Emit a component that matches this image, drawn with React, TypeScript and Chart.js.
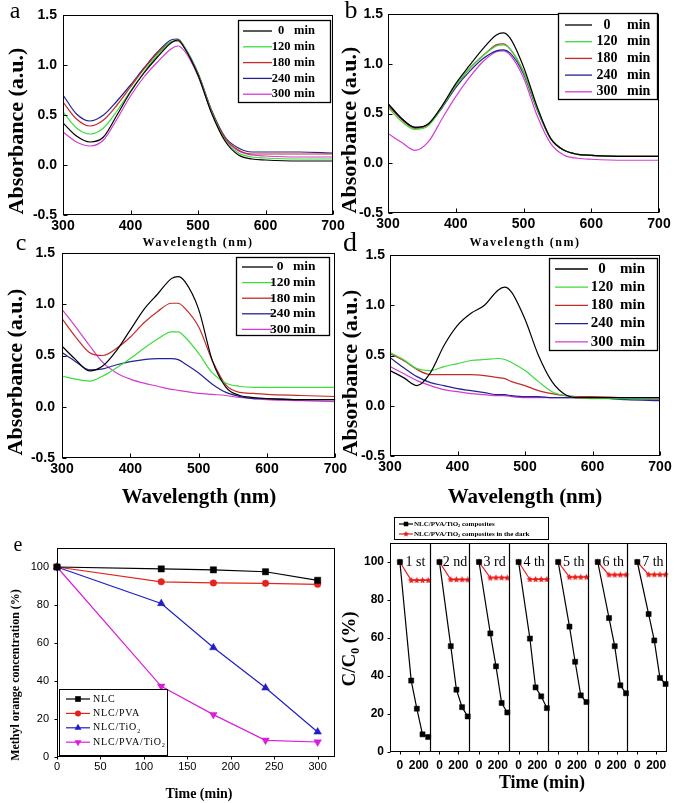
import React, { useEffect, useRef } from 'react';
import { Chart, registerables } from 'chart.js';

Chart.register(...registerables);

const SERIF = '"Liberation Serif", "Times New Roman", serif';
const SANS = '"Liberation Sans", Arial, sans-serif';

// ---------------- spectra (panels a-d) ----------------
const wavelengths = [300, 320, 340, 360, 380, 400, 420, 440, 460, 470, 480, 500, 520, 540, 560, 580, 600, 650, 700];
const irradiationMinutes = [0, 120, 180, 240, 300];
const spectrumColors = ['#000000', '#3cdc3c', '#c42a2a', '#24248e', '#d23cd2'];
const wavelengthTicks = [300, 400, 500, 600, 700];
const absorbanceTicks = [-0.5, 0, 0.5, 1, 1.5];

const absA0 = [0.42, 0.29, 0.23, 0.28, 0.50, 0.73, 0.92, 1.08, 1.22, 1.25, 1.17, 0.90, 0.52, 0.24, 0.10, 0.06, 0.05, 0.04, 0.04];
const absA120 = [0.53, 0.37, 0.31, 0.37, 0.54, 0.74, 0.93, 1.10, 1.23, 1.25, 1.18, 0.91, 0.53, 0.25, 0.12, 0.08, 0.07, 0.06, 0.06];
const absA180 = [0.63, 0.46, 0.39, 0.45, 0.60, 0.78, 0.96, 1.12, 1.23, 1.24, 1.17, 0.91, 0.54, 0.27, 0.15, 0.11, 0.11, 0.11, 0.11];
const absA240 = [0.70, 0.51, 0.44, 0.50, 0.64, 0.80, 0.97, 1.13, 1.25, 1.26, 1.18, 0.92, 0.55, 0.28, 0.17, 0.13, 0.13, 0.13, 0.12];
const absA300 = [0.33, 0.23, 0.19, 0.25, 0.46, 0.69, 0.88, 1.03, 1.16, 1.19, 1.14, 0.89, 0.53, 0.26, 0.14, 0.10, 0.09, 0.08, 0.08];

const absB0 = [0.60, 0.45, 0.36, 0.40, 0.58, 0.80, 0.98, 1.15, 1.29, 1.31, 1.26, 0.97, 0.57, 0.25, 0.13, 0.09, 0.08, 0.07, 0.07];
const absB120 = [0.56, 0.42, 0.34, 0.38, 0.57, 0.78, 0.95, 1.08, 1.18, 1.19, 1.15, 0.92, 0.55, 0.25, 0.13, 0.09, 0.08, 0.07, 0.07];
const absB180 = [0.58, 0.44, 0.35, 0.39, 0.57, 0.78, 0.95, 1.08, 1.19, 1.20, 1.15, 0.92, 0.55, 0.25, 0.13, 0.09, 0.08, 0.07, 0.07];
const absB240 = [0.60, 0.45, 0.36, 0.39, 0.56, 0.76, 0.92, 1.05, 1.13, 1.14, 1.11, 0.90, 0.54, 0.25, 0.13, 0.09, 0.08, 0.07, 0.07];
const absB300 = [0.30, 0.21, 0.13, 0.22, 0.45, 0.67, 0.86, 1.02, 1.12, 1.13, 1.09, 0.86, 0.48, 0.20, 0.08, 0.05, 0.04, 0.03, 0.03];

const absC0 = [0.59, 0.46, 0.35, 0.40, 0.55, 0.75, 0.95, 1.10, 1.25, 1.27, 1.22, 0.95, 0.45, 0.19, 0.11, 0.09, 0.08, 0.07, 0.07];
const absC120 = [0.30, 0.27, 0.25, 0.30, 0.38, 0.47, 0.57, 0.66, 0.73, 0.73, 0.68, 0.52, 0.33, 0.23, 0.20, 0.19, 0.19, 0.19, 0.19];
const absC180 = [0.86, 0.68, 0.53, 0.50, 0.57, 0.68, 0.82, 0.93, 1.01, 1.01, 0.96, 0.78, 0.45, 0.21, 0.14, 0.13, 0.12, 0.11, 0.10];
const absC240 = [0.53, 0.44, 0.36, 0.37, 0.41, 0.44, 0.46, 0.47, 0.47, 0.46, 0.42, 0.33, 0.22, 0.14, 0.10, 0.08, 0.08, 0.07, 0.07];
const absC300 = [0.95, 0.78, 0.60, 0.43, 0.33, 0.27, 0.23, 0.20, 0.17, 0.16, 0.15, 0.13, 0.12, 0.11, 0.09, 0.08, 0.07, 0.06, 0.05];

const absD0 = [0.35, 0.28, 0.20, 0.33, 0.60, 0.80, 0.92, 1.00, 1.15, 1.18, 1.13, 0.86, 0.50, 0.24, 0.11, 0.08, 0.08, 0.08, 0.08];
const absD120 = [0.53, 0.46, 0.37, 0.35, 0.39, 0.42, 0.45, 0.46, 0.47, 0.46, 0.43, 0.35, 0.24, 0.14, 0.10, 0.08, 0.07, 0.07, 0.07];
const absD180 = [0.52, 0.45, 0.36, 0.31, 0.31, 0.31, 0.31, 0.30, 0.28, 0.27, 0.24, 0.20, 0.15, 0.12, 0.10, 0.09, 0.09, 0.08, 0.08];
const absD240 = [0.48, 0.38, 0.29, 0.23, 0.20, 0.17, 0.15, 0.13, 0.11, 0.11, 0.10, 0.09, 0.09, 0.08, 0.08, 0.08, 0.08, 0.06, 0.05];
const absD300 = [0.39, 0.32, 0.25, 0.20, 0.16, 0.14, 0.12, 0.11, 0.10, 0.10, 0.09, 0.08, 0.08, 0.08, 0.08, 0.08, 0.08, 0.07, 0.06];

const absorbanceTitle = 'Absorbance (a.u.)';
const wavelengthTitle = 'Wavelength (nm)';

// ---------------- panel e ----------------
const degradationMinutes = [0, 120, 180, 240, 300];
const concNLC = [100, 99, 98.5, 97.5, 93];
const concNLCPVA = [100, 92.2, 91.6, 91.4, 90.9];
const concNLCTiO2 = [100, 80.8, 57.6, 36.4, 13.2];
const concNLCPVATiO2 = [100, 37.2, 22.3, 8.8, 7.9];
const eNames = ['NLC', 'NLC/PVA', 'NLC/TiO2', 'NLC/PVA/TiO2'];
const eColors = ['#000000', '#e3241c', '#1f1fc4', '#d91ed9'];
const eMarkers = ['rect', 'circle', 'triangle', 'triangleDown'];
const eTimeTicks = [0, 50, 100, 150, 200, 250, 300];
const eConcTicks = [0, 20, 40, 60, 80, 100];
const eYTitle = 'Methyl orange concentration (%)';
const timeTitle = 'Time (min)';

// ---------------- panel f ----------------
const cycleMinutes = [0, 120, 180, 240, 300];
const cycleTickMinutes = [0, 200];
const cycleSpan = 420;
const cycleOffset = 105;
const cycleLabels = ['1 st', '2 nd', '3 rd', '4 th', '5 th', '6 th', '7 th'];
const lightCycles = [
  [100, 37.6, 22.8, 9.3, 7.9],
  [100, 55.7, 32.8, 23.6, 18.7],
  [100, 62.4, 45.1, 25.8, 20.8],
  [100, 59.7, 34.0, 29.3, 23.1],
  [100, 66.0, 47.5, 29.8, 26.3],
  [100, 70.5, 55.7, 35.1, 30.9],
  [100, 72.6, 58.7, 39.0, 35.8],
];
const darkCycles = [
  [100, 90.3, 90.3, 90.3, 90.3],
  [100, 90.7, 90.7, 90.7, 90.6],
  [100, 91.6, 91.7, 91.7, 91.6],
  [100, 90.8, 90.8, 90.8, 90.8],
  [100, 92.0, 92.0, 92.0, 92.0],
  [100, 93.2, 93.2, 93.2, 93.2],
  [100, 93.3, 93.3, 93.3, 93.3],
];
const fNames = ['NLC/PVA/TiO2 composites', 'NLC/PVA/TiO2 composites in the dark'];
const fColors = ['#000000', '#e8201c'];
const fConcTicks = [0, 20, 40, 60, 80, 100];

// ---------------- helpers ----------------
type Box = { left: number; top: number; width: number; height: number };
type Area = { L: number; T: number; R: number; B: number };
type Part = { t: string; sub?: boolean };

function layoutFor(box: Box, area: Area) {
  return {
    yWidth: area.L - box.left,
    xHeight: box.top + box.height - area.B,
    padTop: area.T - box.top,
    padRight: box.left + box.width - area.R,
  };
}

function drawText(
  ctx: CanvasRenderingContext2D,
  s: string,
  x: number,
  y: number,
  font: string,
  o: { align?: CanvasTextAlign; rot?: number; ls?: string; color?: string } = {}
) {
  ctx.save();
  ctx.font = font;
  ctx.fillStyle = o.color || '#000';
  ctx.textAlign = o.align || 'center';
  ctx.textBaseline = 'middle';
  (ctx as any).letterSpacing = o.ls || '0px';
  ctx.translate(x, y);
  if (o.rot) ctx.rotate(o.rot);
  ctx.fillText(s, 0, 0);
  ctx.restore();
}

function chemParts(label: string): Part[] {
  const segs = label.split('TiO2');
  const parts: Part[] = [];
  segs.forEach((s, i) => {
    const last = i === segs.length - 1;
    parts.push({ t: s + (last ? '' : 'TiO') });
    if (!last) parts.push({ t: '2', sub: true });
  });
  return parts.filter((p) => p.t.length > 0);
}

function drawRich(
  ctx: CanvasRenderingContext2D,
  parts: Part[],
  x: number,
  y: number,
  size: number,
  weight: string,
  o: { align?: 'left' | 'center'; rot?: number; ls?: string } = {}
) {
  ctx.save();
  ctx.translate(x, y);
  if (o.rot) ctx.rotate(o.rot);
  (ctx as any).letterSpacing = o.ls || '0px';
  const fN = `${weight} ${size}px ${SERIF}`;
  const fS = `${weight} ${size * 0.62}px ${SERIF}`;
  const widths = parts.map((p) => {
    ctx.font = p.sub ? fS : fN;
    return ctx.measureText(p.t).width;
  });
  const total = widths.reduce((a, b) => a + b, 0);
  let cx = o.align === 'center' ? -total / 2 : 0;
  ctx.textAlign = 'left';
  ctx.textBaseline = 'middle';
  ctx.fillStyle = '#000';
  parts.forEach((p, i) => {
    ctx.font = p.sub ? fS : fN;
    ctx.fillText(p.t, cx, p.sub ? size * 0.32 : 0);
    cx += widths[i];
  });
  ctx.restore();
}

function starPath(g: CanvasRenderingContext2D, cx: number, cy: number, r: number, ri: number) {
  g.beginPath();
  for (let i = 0; i < 10; i++) {
    const a = -Math.PI / 2 + (i * Math.PI) / 5;
    const rr = i % 2 === 0 ? r : ri;
    const px = cx + rr * Math.cos(a);
    const py = cy + rr * Math.sin(a);
    if (i === 0) g.moveTo(px, py);
    else g.lineTo(px, py);
  }
  g.closePath();
}

function starImage(color: string, r: number) {
  const c = document.createElement('canvas');
  const s = Math.ceil(r * 2) + 2;
  c.width = s;
  c.height = s;
  const g = c.getContext('2d')!;
  starPath(g, s / 2, s / 2, r, r * 0.5);
  g.fillStyle = color;
  g.fill();
  return c;
}

function drawMarker(ctx: CanvasRenderingContext2D, style: string, x: number, y: number, r: number, color: string) {
  ctx.save();
  ctx.fillStyle = color;
  ctx.beginPath();
  if (style === 'rect') {
    const h = r * Math.SQRT1_2;
    ctx.rect(x - h, y - h, 2 * h, 2 * h);
  } else if (style === 'circle') {
    ctx.arc(x, y, r, 0, Math.PI * 2);
  } else if (style === 'triangle' || style === 'triangleDown') {
    const d = style === 'triangle' ? 1 : -1;
    ctx.moveTo(x, y - d * r);
    ctx.lineTo(x + r * 0.87, y + d * r * 0.5);
    ctx.lineTo(x - r * 0.87, y + d * r * 0.5);
    ctx.closePath();
  } else if (style === 'star') {
    starPath(ctx, x, y, r, r * 0.5);
  }
  ctx.fill();
  ctx.restore();
}

function drawFrame(chart: any, dir: 'in' | 'out', len: number) {
  const ctx: CanvasRenderingContext2D = chart.ctx;
  const a = chart.chartArea;
  const l = Math.round(a.left) + 0.5;
  const t = Math.round(a.top) + 0.5;
  const r = Math.round(a.right) - 0.5;
  const b = Math.round(a.bottom) - 0.5;
  ctx.save();
  ctx.strokeStyle = '#000';
  ctx.lineWidth = 1;
  ctx.strokeRect(l, t, r - l, b - t);
  ctx.beginPath();
  const s = dir === 'in' ? -1 : 1;
  const xs = chart.scales.x;
  const ys = chart.scales.y;
  for (const tk of xs.ticks) {
    const px = Math.round(xs.getPixelForValue(tk.value)) + 0.5;
    ctx.moveTo(px, b);
    ctx.lineTo(px, b + s * len);
  }
  for (const tk of ys.ticks) {
    const py = Math.round(ys.getPixelForValue(tk.value)) + 0.5;
    ctx.moveTo(l, py);
    ctx.lineTo(l - s * len, py);
  }
  ctx.stroke();
  ctx.restore();
}

function overlay(box: Box, dir: 'in' | 'out', len: number, draw: (ctx: CanvasRenderingContext2D, chart: any) => void) {
  return {
    id: 'overlay',
    afterDraw(chart: any) {
      drawFrame(chart, dir, len);
      const ctx: CanvasRenderingContext2D = chart.ctx;
      ctx.save();
      ctx.translate(-box.left, -box.top);
      draw(ctx, chart);
      ctx.restore();
    },
  };
}

function fixedTicks(values: number[]) {
  return (s: any) => {
    s.ticks = values.map((v) => ({ value: v }));
  };
}

// ---------------- spectrum panels ----------------
type SpecPanel = {
  box: Box;
  area: Area;
  series: number[][];
  letter: { text: string; x: number; y: number; size: number };
  yTitle: { x: number; y: number; size: number };
  xTitle: { x: number; y: number; size: number; ls: number };
  legend: { x1: number; y1: number; x2: number; y2: number; y0: number; dy: number; l1: number; l2: number; numX: number; unitX: number; size: number };
  yPad: number;
  xPad: number;
  tickSize: number;
};

const panelA: SpecPanel = {
  box: { left: 0, top: 0, width: 348, height: 252 },
  area: { L: 63, T: 15, R: 333, B: 215 },
  series: [absA0, absA120, absA180, absA240, absA300],
  letter: { text: 'a', x: 15, y: 12, size: 24 },
  yTitle: { x: 17, y: 131, size: 22 },
  xTitle: { x: 198, y: 243, size: 12, ls: 1.5 },
  legend: { x1: 238, y1: 20, x2: 330, y2: 102, y0: 31, dy: 15.8, l1: 243, l2: 272, numX: 281, unitX: 294, size: 12.5 },
  yPad: 6,
  xPad: 3,
  tickSize: 14,
};
const panelB: SpecPanel = {
  box: { left: 336, top: 0, width: 339, height: 252 },
  area: { L: 388, T: 14, R: 659, B: 213 },
  series: [absB0, absB120, absB180, absB240, absB300],
  letter: { text: 'b', x: 351, y: 11, size: 26 },
  yTitle: { x: 350, y: 130, size: 22 },
  xTitle: { x: 525, y: 243, size: 12, ls: 1.5 },
  legend: { x1: 558, y1: 13, x2: 657, y2: 99, y0: 25, dy: 16.7, l1: 565, l2: 592, numX: 607, unitX: 627, size: 14 },
  yPad: 5,
  xPad: 3,
  tickSize: 14,
};
const panelC: SpecPanel = {
  box: { left: 0, top: 232, width: 350, height: 280 },
  area: { L: 62, T: 253, R: 337, B: 458 },
  series: [absC0, absC120, absC180, absC240, absC300],
  letter: { text: 'c', x: 21, y: 244, size: 24 },
  yTitle: { x: 16, y: 372, size: 22 },
  xTitle: { x: 199, y: 498, size: 21, ls: 0 },
  legend: { x1: 236, y1: 257, x2: 329, y2: 335, y0: 267, dy: 15.6, l1: 242, l2: 273, numX: 280, unitX: 293, size: 13.5 },
  yPad: 7,
  xPad: 3,
  tickSize: 14,
};
const panelD: SpecPanel = {
  box: { left: 336, top: 232, width: 339, height: 280 },
  area: { L: 390, T: 255, R: 660, B: 456 },
  series: [absD0, absD120, absD180, absD240, absD300],
  letter: { text: 'd', x: 350, y: 244, size: 28 },
  yTitle: { x: 351, y: 373, size: 22 },
  xTitle: { x: 525, y: 498, size: 21, ls: 0 },
  legend: { x1: 549, y1: 258, x2: 657, y2: 350, y0: 269, dy: 18.2, l1: 555, l2: 588, numX: 602, unitX: 620, size: 15 },
  yPad: 5,
  xPad: 3,
  tickSize: 14,
};

function spectrumConfig(p: SpecPanel): any {
  const lay = layoutFor(p.box, p.area);
  const tickFont = { family: SANS, size: p.tickSize, weight: 'bold' as const };
  return {
    type: 'line',
    data: {
      datasets: p.series.map((vals, i) => ({
        label: `${irradiationMinutes[i]} min`,
        data: wavelengths.map((w, j) => ({ x: w, y: vals[j] })),
        borderColor: spectrumColors[i],
        backgroundColor: spectrumColors[i],
        borderWidth: 1.2,
        pointRadius: 0,
        cubicInterpolationMode: 'monotone',
        fill: false,
      })),
    },
    options: {
      responsive: false,
      animation: false,
      devicePixelRatio: 1,
      layout: { padding: { left: 0, top: lay.padTop, right: lay.padRight, bottom: 0 } },
      plugins: { legend: { display: false }, tooltip: { enabled: false } },
      scales: {
        x: {
          type: 'linear',
          min: wavelengthTicks[0],
          max: wavelengthTicks[wavelengthTicks.length - 1],
          grid: { display: false, drawTicks: false },
          border: { display: false },
          afterBuildTicks: fixedTicks(wavelengthTicks),
          ticks: { font: tickFont, color: '#000', padding: p.xPad, maxRotation: 0, autoSkip: false },
          afterFit: (s: any) => {
            s.height = lay.xHeight;
          },
        },
        y: {
          type: 'linear',
          min: absorbanceTicks[0],
          max: absorbanceTicks[absorbanceTicks.length - 1],
          grid: { display: false, drawTicks: false },
          border: { display: false },
          afterBuildTicks: fixedTicks(absorbanceTicks),
          ticks: { font: tickFont, color: '#000', padding: p.yPad, callback: (v: any) => Number(v).toFixed(1) },
          afterFit: (s: any) => {
            s.width = lay.yWidth;
          },
        },
      },
    },
    plugins: [
      overlay(p.box, 'in', 4, (ctx, chart) => {
        drawText(ctx, p.letter.text, p.letter.x, p.letter.y, `${p.letter.size}px ${SERIF}`);
        drawText(ctx, absorbanceTitle, p.yTitle.x, p.yTitle.y, `bold ${p.yTitle.size}px ${SERIF}`, { rot: -Math.PI / 2 });
        drawText(ctx, wavelengthTitle, p.xTitle.x, p.xTitle.y, `bold ${p.xTitle.size}px ${SERIF}`, { ls: `${p.xTitle.ls}px` });
        const L = p.legend;
        ctx.save();
        ctx.fillStyle = '#fff';
        ctx.fillRect(L.x1, L.y1, L.x2 - L.x1, L.y2 - L.y1);
        ctx.strokeStyle = '#000';
        ctx.lineWidth = 1.3;
        ctx.strokeRect(L.x1 + 0.5, L.y1 + 0.5, L.x2 - L.x1, L.y2 - L.y1);
        chart.data.datasets.forEach((ds: any, i: number) => {
          const y = L.y0 + i * L.dy;
          ctx.strokeStyle = ds.borderColor;
          ctx.lineWidth = 1.3;
          ctx.beginPath();
          ctx.moveTo(L.l1, y);
          ctx.lineTo(L.l2, y);
          ctx.stroke();
          const [num, unit] = String(ds.label).split(' ');
          drawText(ctx, num, L.numX, y, `bold ${L.size}px ${SERIF}`);
          drawText(ctx, unit, L.unitX, y, `bold ${L.size}px ${SERIF}`, { align: 'left' });
        });
        ctx.restore();
      }),
    ],
  };
}

// ---------------- panel e ----------------
const boxE: Box = { left: 0, top: 520, width: 348, height: 283 };
const areaE: Area = { L: 57, T: 548, R: 335, B: 757 };

function pointProps(style: string, color: string, r: number) {
  return {
    pointStyle: style === 'triangleDown' ? 'triangle' : style,
    pointRotation: style === 'triangleDown' ? 180 : 0,
    pointRadius: r,
    pointBackgroundColor: color,
    pointBorderColor: color,
    pointBorderWidth: 0.5,
  };
}

function configE(): any {
  const lay = layoutFor(boxE, areaE);
  const series = [concNLC, concNLCPVA, concNLCTiO2, concNLCPVATiO2];
  const tickFont = { family: SANS, size: 11 };
  return {
    type: 'line',
    data: {
      datasets: series.map((vals, i) => ({
        label: eNames[i],
        data: degradationMinutes.map((t, j) => ({ x: t, y: vals[j] })),
        borderColor: eColors[i],
        borderWidth: 1.2,
        clip: false,
        ...pointProps(eMarkers[i], eColors[i], eMarkers[i] === 'circle' ? 3.3 : 4.4),
      })),
    },
    options: {
      responsive: false,
      animation: false,
      devicePixelRatio: 1,
      layout: { padding: { left: 0, top: lay.padTop, right: lay.padRight, bottom: 0 } },
      plugins: { legend: { display: false }, tooltip: { enabled: false } },
      scales: {
        x: {
          type: 'linear',
          min: 0,
          max: 320,
          grid: { display: false, drawTicks: false },
          border: { display: false },
          afterBuildTicks: fixedTicks(eTimeTicks),
          ticks: { font: tickFont, color: '#000', padding: 3, maxRotation: 0, autoSkip: false },
          afterFit: (s: any) => {
            s.height = lay.xHeight;
          },
        },
        y: {
          type: 'linear',
          min: 0,
          max: 110,
          grid: { display: false, drawTicks: false },
          border: { display: false },
          afterBuildTicks: fixedTicks(eConcTicks),
          ticks: { font: tickFont, color: '#000', padding: 8 },
          afterFit: (s: any) => {
            s.width = lay.yWidth;
          },
        },
      },
    },
    plugins: [
      overlay(boxE, 'out', 3, (ctx, chart) => {
        drawText(ctx, 'e', 18, 546, `20px ${SERIF}`);
        drawText(ctx, eYTitle, 16, 675, `bold 12px ${SERIF}`, { rot: -Math.PI / 2 });
        drawText(ctx, timeTitle, 199, 794, `bold 14px ${SERIF}`);
        // legend
        ctx.save();
        ctx.fillStyle = '#fff';
        ctx.fillRect(59, 689, 108, 66);
        ctx.strokeStyle = '#000';
        ctx.lineWidth = 1;
        ctx.strokeRect(59.5, 689.5, 108, 66);
        chart.data.datasets.forEach((ds: any, i: number) => {
          const y = 699 + i * 14.4;
          ctx.strokeStyle = ds.borderColor;
          ctx.lineWidth = 1.2;
          ctx.beginPath();
          ctx.moveTo(66, y);
          ctx.lineTo(90, y);
          ctx.stroke();
          drawMarker(ctx, eMarkers[i], 78, y, eMarkers[i] === 'circle' ? 3 : 4, eColors[i]);
          drawRich(ctx, chemParts(ds.label), 93, y, 10, 'normal', { align: 'left', ls: '0.8px' });
        });
        ctx.restore();
      }),
    ],
  };
}

// ---------------- panel f ----------------
const boxF: Box = { left: 336, top: 505, width: 339, height: 298 };
const areaF: Area = { L: 390, T: 543, R: 667, B: 752 };

function cycleData(cycles: number[][]) {
  const pts: { x: number; y: number | null }[] = [];
  cycles.forEach((vals, k) => {
    cycleMinutes.forEach((t, j) => pts.push({ x: k * cycleSpan + cycleOffset + t, y: vals[j] }));
    pts.push({ x: (k + 1) * cycleSpan, y: null });
  });
  return pts;
}

function configF(): any {
  const lay = layoutFor(boxF, areaF);
  const tickFont = { family: SANS, size: 12, weight: 'bold' as const };
  const star = starImage(fColors[1], 3.4);
  const xTicks = cycleLabels.flatMap((_, k) => cycleTickMinutes.map((t) => k * cycleSpan + cycleOffset + t));
  return {
    type: 'line',
    data: {
      datasets: [
        {
          label: fNames[0],
          data: cycleData(lightCycles),
          borderColor: fColors[0],
          borderWidth: 1.2,
          spanGaps: false,
          clip: false,
          ...pointProps('rect', fColors[0], 3.6),
        },
        {
          label: fNames[1],
          data: cycleData(darkCycles),
          borderColor: fColors[1],
          borderWidth: 1.2,
          spanGaps: false,
          clip: false,
          pointStyle: star,
          pointRadius: 3.4,
        },
      ],
    },
    options: {
      responsive: false,
      animation: false,
      devicePixelRatio: 1,
      layout: { padding: { left: 0, top: lay.padTop, right: lay.padRight, bottom: 0 } },
      plugins: { legend: { display: false }, tooltip: { enabled: false } },
      scales: {
        x: {
          type: 'linear',
          min: 0,
          max: cycleLabels.length * cycleSpan,
          grid: { display: false, drawTicks: false },
          border: { display: false },
          afterBuildTicks: fixedTicks(xTicks),
          ticks: {
            font: tickFont,
            color: '#000',
            padding: 6,
            maxRotation: 0,
            autoSkip: false,
            callback: (v: any) => String((((Number(v) - cycleOffset) % cycleSpan) + cycleSpan) % cycleSpan),
          },
          afterFit: (s: any) => {
            s.height = lay.xHeight;
          },
        },
        y: {
          type: 'linear',
          min: 0,
          max: 110,
          grid: { display: false, drawTicks: false },
          border: { display: false },
          afterBuildTicks: fixedTicks(fConcTicks),
          ticks: { font: tickFont, color: '#000', padding: 6 },
          afterFit: (s: any) => {
            s.width = lay.yWidth;
          },
        },
      },
    },
    plugins: [
      overlay(boxF, 'out', 3, (ctx, chart) => {
        const xs = chart.scales.x;
        const ys = chart.scales.y;
        const ox = boxF.left;
        const oy = boxF.top;
        // cycle dividers
        ctx.save();
        ctx.strokeStyle = '#000';
        ctx.lineWidth = 1.2;
        ctx.beginPath();
        for (let k = 1; k < cycleLabels.length; k++) {
          const px = Math.round(xs.getPixelForValue(k * cycleSpan)) + 0.5 + ox;
          ctx.moveTo(px, chart.chartArea.top + oy);
          ctx.lineTo(px, chart.chartArea.bottom + oy);
        }
        ctx.stroke();
        ctx.restore();
        cycleLabels.forEach((lab, k) => {
          const px = xs.getPixelForValue(k * cycleSpan + cycleOffset + 165) + ox;
          const py = ys.getPixelForValue(100) + oy;
          drawText(ctx, lab, px, py, `14px ${SERIF}`);
        });
        drawRich(ctx, [{ t: 'C/C' }, { t: '0', sub: true }, { t: ' (%)' }], 350, 649, 19, 'bold', { align: 'center', rot: -Math.PI / 2 });
        drawText(ctx, timeTitle, 542, 783, `bold 18px ${SERIF}`);
        // legend
        ctx.save();
        ctx.fillStyle = '#fff';
        ctx.fillRect(394, 517, 154, 22);
        ctx.strokeStyle = '#000';
        ctx.lineWidth = 1;
        ctx.strokeRect(394.5, 517.5, 154, 22);
        chart.data.datasets.forEach((ds: any, i: number) => {
          const y = 524 + i * 10;
          ctx.strokeStyle = ds.borderColor;
          ctx.lineWidth = 1.2;
          ctx.beginPath();
          ctx.moveTo(399, y);
          ctx.lineTo(413, y);
          ctx.stroke();
          drawMarker(ctx, i === 0 ? 'rect' : 'star', 406, y, i === 0 ? 3.2 : 3, fColors[i]);
          drawRich(ctx, chemParts(ds.label), 414, y, 7, 'bold', { align: 'left' });
        });
        ctx.restore();
      }),
    ],
  };
}

// ---------------- components ----------------
function ChartCanvas({ box, build }: { box: Box; build: () => any }) {
  const ref = useRef<HTMLCanvasElement>(null);
  useEffect(() => {
    const chart = new Chart(ref.current as HTMLCanvasElement, build());
    return () => chart.destroy();
  }, []);
  return (
    <canvas
      ref={ref}
      width={box.width}
      height={box.height}
      style={{ position: 'absolute', left: box.left, top: box.top, width: box.width, height: box.height }}
    />
  );
}

export default function App() {
  return (
    <div style={{ position: 'absolute', left: 0, top: 0, width: 675, height: 803, background: '#fff', overflow: 'hidden' }}>
      <ChartCanvas box={panelA.box} build={() => spectrumConfig(panelA)} />
      <ChartCanvas box={panelB.box} build={() => spectrumConfig(panelB)} />
      <ChartCanvas box={panelC.box} build={() => spectrumConfig(panelC)} />
      <ChartCanvas box={panelD.box} build={() => spectrumConfig(panelD)} />
      <ChartCanvas box={boxE} build={configE} />
      <ChartCanvas box={boxF} build={configF} />
    </div>
  );
}
